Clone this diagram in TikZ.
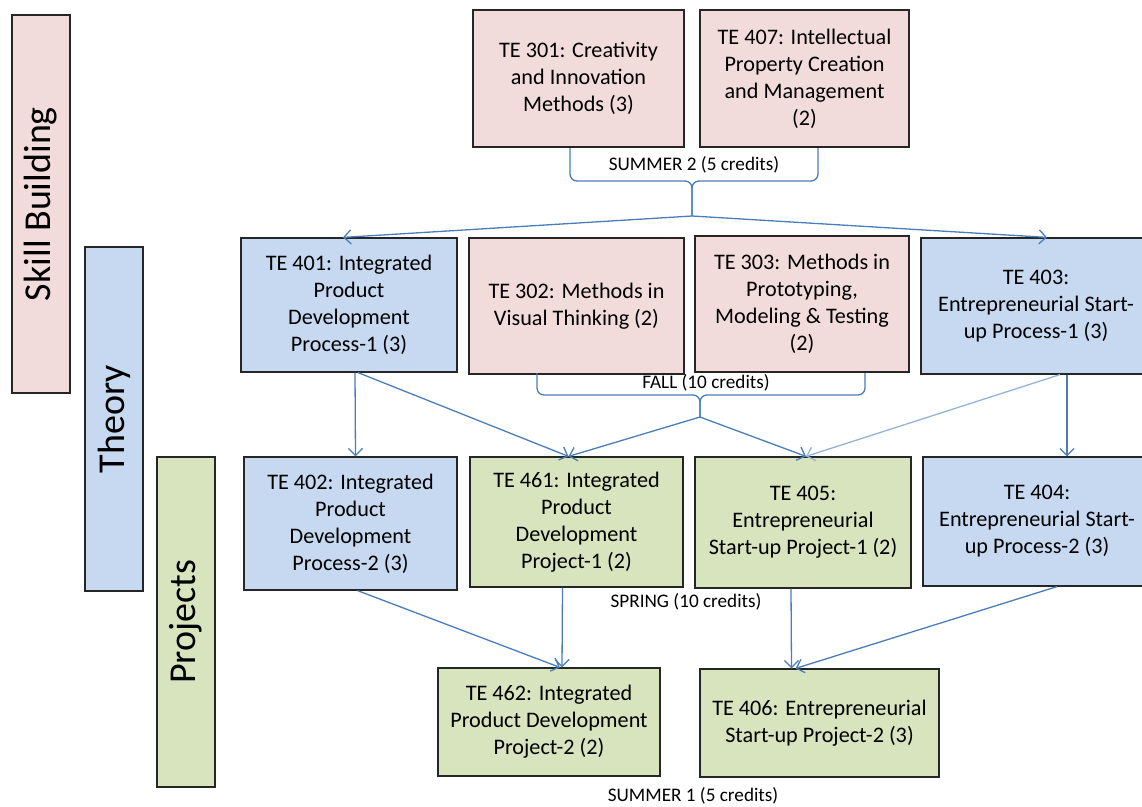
\documentclass[tikz,border=0pt]{standalone}
\usepackage{fontspec}
\setmainfont{Carlito}
\usetikzlibrary{arrows.meta}
\definecolor{skillpink}{HTML}{F2DCDB}
\definecolor{theoryblue}{HTML}{C6D9F1}
\definecolor{projgreen}{HTML}{D7E4BD}
\definecolor{linkblue}{HTML}{4A7EBB}
\definecolor{linkpale}{HTML}{95B3D7}
\begin{document}
\begin{tikzpicture}[x=1pt, y=-1pt, >={Straight Barb[length=7pt,width=14pt]}]
    \tikzstyle{course} = [rectangle, draw=black!85, line width=1.2pt, align=center, inner sep=2pt, font=\fontsize{22.2}{27}\selectfont]
    \tikzstyle{skill} = [course, fill=skillpink]
    \tikzstyle{theory} = [course, fill=theoryblue]
    \tikzstyle{project} = [course, fill=projgreen]
    \tikzstyle{band} = [rectangle, draw=black!85, line width=1.2pt, rotate=90, minimum height=58pt, font=\fontsize{38}{42}\selectfont]
    \tikzstyle{term} = [inner sep=1pt, font=\fontsize{19.2}{21}\selectfont]
    \tikzstyle{link} = [->, draw=linkblue, line width=1.3pt]
    \tikzstyle{brace} = [draw=linkblue, line width=1.3pt, rounded corners=7pt]

    \useasboundingbox (0,0) rectangle (1142,806);
    \clip (0,0) rectangle (1142,806);

    % side bands
    \node [band, fill=skillpink, minimum width=378pt] (skillband) at (41,204) {Skill Building};
    \node [band, fill=theoryblue, minimum width=344pt] (theoryband) at (114,419) {Theory};
    \node [band, fill=projgreen, minimum width=330pt] (projband) at (186,622) {Projects};

    % summer 2
    \node [skill, minimum width=211pt, minimum height=137pt] (te301) at (578.5,78.5) {TE 301: Creativity\\and Innovation\\Methods (3)};
    \node [skill, minimum width=209pt, minimum height=137pt] (te407) at (804.5,78.5) {TE 407: Intellectual\\Property Creation\\and Management\\(2)};

    % fall
    \node [theory, minimum width=216pt, minimum height=134pt] (te401) at (349,305) {TE 401: Integrated\\Product\\Development\\Process-1 (3)};
    \node [skill, minimum width=215pt, minimum height=136pt] (te302) at (576.5,306) {TE 302: Methods in\\Visual Thinking (2)};
    \node [skill, minimum width=214pt, minimum height=136pt] (te303) at (802,304) {TE 303: Methods in\\Prototyping,\\Modeling \& Testing\\(2)};
    \node [theory, minimum width=230pt, minimum height=136pt] (te403) at (1036,306) {TE 403:\\Entrepreneurial Start-\\up Process-1 (3)};

    % spring
    \node [theory, minimum width=213pt, minimum height=133pt] (te402) at (350.5,523.5) {TE 402: Integrated\\Product\\Development\\Process-2 (3)};
    \node [project, minimum width=213pt, minimum height=130pt] (te461) at (576.5,522) {TE 461: Integrated\\Product\\Development\\Project-1 (2)};
    \node [project, minimum width=216pt, minimum height=131pt] (te405) at (803,522.5) {TE 405:\\Entrepreneurial\\Start-up Project-1 (2)};
    \node [theory, minimum width=228pt, minimum height=129pt] (te404) at (1037,521.5) {TE 404:\\Entrepreneurial Start-\\up Process-2 (3)};

    % summer 1
    \node [project, minimum width=222pt, minimum height=108pt] (te462) at (549,722) {TE 462: Integrated\\Product Development\\Project-2 (2)};
    \node [project, minimum width=239pt, minimum height=108pt] (te406) at (819.5,723) {TE 406: Entrepreneurial\\Start-up Project-2 (3)};

    % term labels
    \node [term] (summer2) at (694,165) {SUMMER 2 (5 credits)};
    \node [term] (fall) at (706,383) {FALL (10 credits)};
    \node [term] (spring) at (686,602) {SPRING (10 credits)};
    \node [term] (summer1) at (693,796) {SUMMER 1 (5 credits)};

    % braces
    \coordinate (s2left) at (570,148);
    \coordinate (s2right) at (818,148);
    \coordinate (s2tip) at (692,216);
    \coordinate (fleft) at (537,373);
    \coordinate (fright) at (865,373);
    \coordinate (ftip) at (700,417);
    \draw [brace] (s2left) |- (s2tip |- 0,181) -- (s2tip);
    \draw [brace] (s2right) |- (s2tip |- 0,181) -- (s2tip);
    \draw [brace] (fleft) |- (ftip |- 0,395) -- (ftip);
    \draw [brace] (fright) |- (ftip |- 0,395) -- (ftip);

    % prerequisites
    \draw [link] (s2tip) -- ([xshift=-6pt]te401.north);
    \draw [link] (s2tip) -- ([xshift=11pt]te403.north);
    \draw [link] ([xshift=6pt]te401.south) -- ([xshift=5pt]te402.north);
    \draw [link] ([xshift=9pt]te401.south) -- ([xshift=-8pt]te461.north);
    \draw [link] (ftip) -- ([xshift=-8pt]te461.north);
    \draw [link] (ftip) -- ([xshift=3pt]te405.north);
    \draw [link, draw=linkpale] ([xshift=24pt]te403.south) -- ([xshift=3pt]te405.north);
    \draw [link] ([xshift=31pt]te403.south) -- ([xshift=30pt]te404.north);
    \draw [link] ([xshift=7pt]te402.south) -- ([xshift=11pt]te462.north);
    \draw [link] ([xshift=-14pt]te461.south) -- ([xshift=13pt]te462.north);
    \draw [link] ([xshift=-12pt]te405.south) -- ([xshift=-28pt]te406.north);
    \draw [link] ([xshift=20pt]te404.south) -- ([xshift=-24pt]te406.north);
\end{tikzpicture}
\end{document}
